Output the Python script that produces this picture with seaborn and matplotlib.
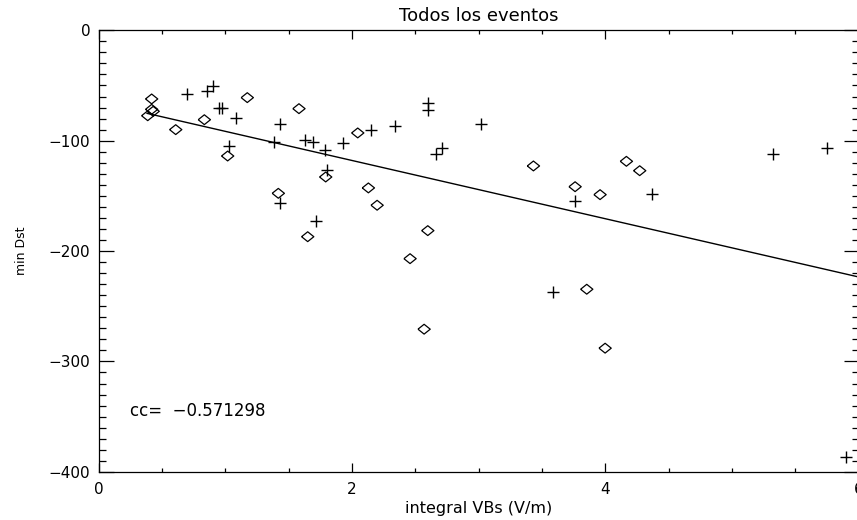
import matplotlib
matplotlib.use("Agg")
import matplotlib.pyplot as plt
from matplotlib.ticker import MultipleLocator, FuncFormatter
import seaborn as sns
import pandas as pd

# ---- data ----
diamond_x = [0.418, 0.418, 0.43, 0.387, 0.608, 0.834, 1.173, 1.018, 1.581, 1.418,
             1.792, 1.65, 2.045, 2.129, 2.198, 2.598, 2.458, 2.569, 3.432, 3.761,
             3.958, 4.166, 4.271, 3.853, 3.998]
diamond_y = [-62.2, -71.6, -73.4, -77.4, -90, -81, -61, -113.9, -71, -147.7,
             -132.9, -187, -93, -142.8, -158.5, -181.5, -206.9, -270.8, -122.9, -141.7,
             -148.9, -118.7, -127.2, -234.6, -288]

plus_x = [0.697, 0.853, 0.9, 0.95, 0.976, 1.082, 1.031, 1.384, 1.431, 1.431,
          1.629, 1.695, 1.787, 1.805, 1.716, 1.931, 2.15, 2.598, 2.603, 2.337,
          3.019, 2.708, 2.661, 3.761, 4.366, 3.585, 5.327, 5.748, 5.9]
plus_y = [-57.7, -54.7, -50.7, -70.7, -70.7, -79.4, -104.8, -100.9, -84.9, -156.4,
          -99.4, -101.5, -108.4, -126.5, -172.5, -102.1, -90, -66.1, -72.2, -87,
          -85.1, -106.6, -112, -154.9, -148.6, -236.8, -111.8, -106.3, -386.8]

fit_x = [0.38, 6.0]
fit_y = [-75.2, -223.5]

x_ticks = [0, 2, 4, 6]
y_ticks = [0, -100, -200, -300, -400]
title = "Todos los eventos"
x_label = "integral VBs (V/m)"
y_label = "min Dst"
cc_text = "cc=  \u22120.571298"

# ---- plotting ----
sns.set_style("white")
plt.rcParams["font.family"] = ["DejaVu Sans"]
plt.rcParams["axes.linewidth"] = 0.9
for k in ("text.color", "axes.labelcolor", "xtick.color", "ytick.color", "axes.edgecolor"):
    plt.rcParams[k] = "black"

fig = plt.figure(figsize=(8.57, 5.20), dpi=100)
ax = fig.add_axes([98.7 / 857, 48.2 / 520, 760.0 / 857, 441.5 / 520])

diamond_marker = [(-1.0, 0.0), (0.0, 0.8), (1.0, 0.0), (0.0, -0.8), (-1.0, 0.0)]

df_d = pd.DataFrame({"x": diamond_x, "y": diamond_y})
df_p = pd.DataFrame({"x": plus_x, "y": plus_y})
df_f = pd.DataFrame({"x": fit_x, "y": fit_y})

sns.scatterplot(data=df_d, x="x", y="y", ax=ax, marker=diamond_marker, s=78,
                facecolors="none", edgecolor="black", linewidth=0.9, legend=False)
sns.scatterplot(data=df_p, x="x", y="y", ax=ax, marker="+", s=85,
                color="black", linewidth=1.0, legend=False)
sns.lineplot(data=df_f, x="x", y="y", ax=ax, color="black", linewidth=1.0)

ax.set_xlim(0, 6)
ax.set_ylim(-400, 0)
ax.set_xticks(x_ticks)
ax.set_yticks(y_ticks)
ax.xaxis.set_minor_locator(MultipleLocator(0.5))
ax.yaxis.set_minor_locator(MultipleLocator(10))
ax.yaxis.set_major_formatter(FuncFormatter(lambda v, p: f"{int(v)}".replace("-", "\u2212")))

ax.tick_params(axis="x", which="major", direction="in", length=6.5, width=0.9,
               top=True, bottom=True, labelsize=11, pad=7)
ax.tick_params(axis="x", which="minor", direction="in", length=3.2, width=0.9,
               top=True, bottom=True)
ax.tick_params(axis="y", which="major", direction="in", length=10.6, width=0.9,
               left=True, right=True, labelsize=11, pad=6)
ax.tick_params(axis="y", which="minor", direction="in", length=5.0, width=0.9,
               left=True, right=True)

for s in ax.spines.values():
    s.set_visible(True)
    s.set_color("black")

ax.set_xlabel(x_label, fontsize=11.5, labelpad=3)
ax.set_ylabel(y_label, fontsize=9, labelpad=15)
ax.set_title(title, fontsize=13, pad=7)

ax.text(0.25, -345, cc_text, fontsize=12, ha="left", va="center")

fig.savefig("out.png", dpi=100)
